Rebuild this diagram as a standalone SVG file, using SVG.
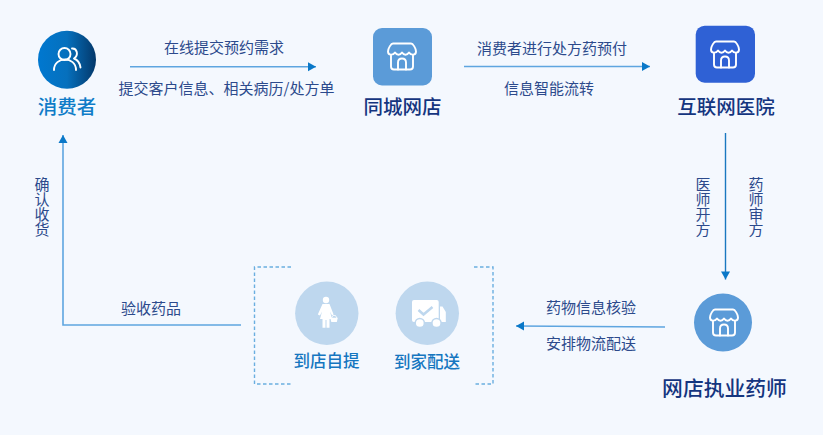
<svg xmlns="http://www.w3.org/2000/svg" width="823" height="435" viewBox="0 0 823 435">
<style>
text{font-family:"Noto Sans CJK SC","Liberation Sans",sans-serif}
.l{font-size:15px;fill:#2c4a8c;text-anchor:middle}
.v{font-size:15px;fill:#2c4a8c;text-anchor:middle;writing-mode:vertical-rl}
.t{font-size:19.5px;fill:#14357f;text-anchor:middle;font-weight:500}
.b{font-size:19.5px;fill:#0f7cc8;text-anchor:middle;font-weight:500}
.s{font-size:16.5px;fill:#1576c0;text-anchor:middle;font-weight:500}
.c{fill:none;stroke:#5ea5e0;stroke-width:1.6}
.i{fill:none;stroke:#fff;stroke-width:1.9;stroke-linecap:round;stroke-linejoin:round}
.d{fill:none;stroke:#6aaee0;stroke-width:1.4;stroke-dasharray:3.5 2.5}
</style>
<defs>
<linearGradient id="g" x1="0" x2="1" y1="0" y2="0"><stop offset="0" stop-color="#0078d0"/><stop offset="0.5" stop-color="#0670bd"/><stop offset="1" stop-color="#03386a"/></linearGradient>
<marker id="a" markerUnits="userSpaceOnUse" markerWidth="10" markerHeight="10" refX="9" refY="5" orient="auto"><path d="M1 0.5L9 5L1 9.5Z" fill="#0a78c8"/></marker>
<g id="shop" class="i">
<path d="M-9 -13H9C11 -13 14 -8 14 -5C14 -1 9 -1 7 -4C5 -1 2 -1 0 -4C-2 -1 -5 -1 -7 -4C-9 -1 -14 -1 -14 -5C-14 -8 -11 -13 -9 -13Z"/>
<path d="M-11 -1V10Q-11 13 -8 13H8Q11 13 11 10V-1"/>
<path d="M-4 13V6Q-4 2 0 2Q4 2 4 6V13"/>
</g>
</defs>
<rect width="823" height="435" fill="#f4f8fe"/>
<g id="connectors">
<path class="c" d="M130 66.700H316" marker-end="url(#a)"/>
<path class="c" d="M464 66.500H650" marker-end="url(#a)"/>
<path d="M725.500 133V279.500" fill="none" stroke="#1a78c0" stroke-width="1.400" marker-end="url(#a)"/>
<path class="c" d="M665 327L516 326" marker-end="url(#a)"/>
<path class="c" d="M241 325H63V135" marker-end="url(#a)"/>
</g>
<g id="consumer">
<circle cx="67" cy="59.700" r="29" fill="url(#g)"/>
<g class="i"><circle cx="64.500" cy="54" r="6"/><path d="M54 70C54 56 76 56 76 70"/><path d="M72 48.500C77 48 79 55 74 58.500C78 60 80 64 80.500 67.500"/></g>
<text class="b" x="67" y="113.500">消费者</text>
</g>
<g id="store">
<rect x="373" y="28" width="59" height="57.500" rx="9" fill="#5b9bd8"/>
<use href="#shop" x="402" y="56.500"/>
<text class="t" x="402.500" y="113.500">同城网店</text>
</g>
<g id="hospital">
<rect x="695.700" y="25.700" width="59.300" height="57" rx="9" fill="#2f61d5"/>
<use href="#shop" x="725" y="54.500"/>
<text class="t" x="726" y="113.500">互联网医院</text>
</g>
<g id="pharmacist">
<circle cx="723" cy="322.500" r="29" fill="#5b9bd8"/>
<use href="#shop" x="724" y="322.500"/>
<text class="t" x="724.500" y="396" style="font-size:20.800px">网店执业药师</text>
</g>
<g id="pickup-box">
<path class="d" d="M291 267H254.500V384H291"/>
<path class="d" d="M474 267H493V384H474"/>
</g>
<g id="pickup">
<circle cx="326.800" cy="313.300" r="31.700" fill="#bed7ee"/>
<g fill="#fff">
<circle cx="326" cy="300" r="3.200"/>
<path d="M322.500 304H329.500L333.600 314.500L332 315.500L330 311.500L332 319H329.500V327.700H326.500V320H325.500V327.700H322.500V319H320L322 311.500L320 315.500L317.800 314.500Z"/>
<path d="M330.300 317.800H337.800L336.800 322H331.300Z"/>
</g>
<path d="M331.500 318L333 315.500H335.500L336.800 318" fill="none" stroke="#fff" stroke-width="0.800"/>
<text class="s" x="326.500" y="367">到店自提</text>
</g>
<g id="delivery">
<circle cx="427.300" cy="313.300" r="31.700" fill="#bed7ee"/>
<rect x="412" y="300" width="26.700" height="22" rx="2" fill="#fff"/>
<path d="M440 306.500H442.500L445.800 312V322H440Z" fill="#fff"/>
<circle cx="419.800" cy="323" r="4.600" fill="#fff" stroke="#bed7ee" stroke-width="1.500"/>
<circle cx="436.500" cy="323" r="4.600" fill="#fff" stroke="#bed7ee" stroke-width="1.500"/>
<path d="M418.500 310L423.500 314.500L432.500 307" fill="none" stroke="#bed7ee" stroke-width="2.500"/>
<text class="s" x="427" y="368">到家配送</text>
</g>
<g id="labels">
<text class="l" x="224" y="53">在线提交预约需求</text>
<text class="l" x="226.500" y="94">提交客户信息、相关病历/处方单</text>
<text class="l" x="552" y="54">消费者进行处方药预付</text>
<text class="l" x="549" y="94">信息智能流转</text>
<text class="l" x="591" y="313">药物信息核验</text>
<text class="l" x="591" y="349">安排物流配送</text>
<text class="l" x="151" y="314">验收药品</text>
<text class="v" x="42" y="207">确认收货</text>
<text class="v" x="703" y="207">医师开方</text>
<text class="v" x="756" y="207">药师审方</text>
</g>
</svg>
